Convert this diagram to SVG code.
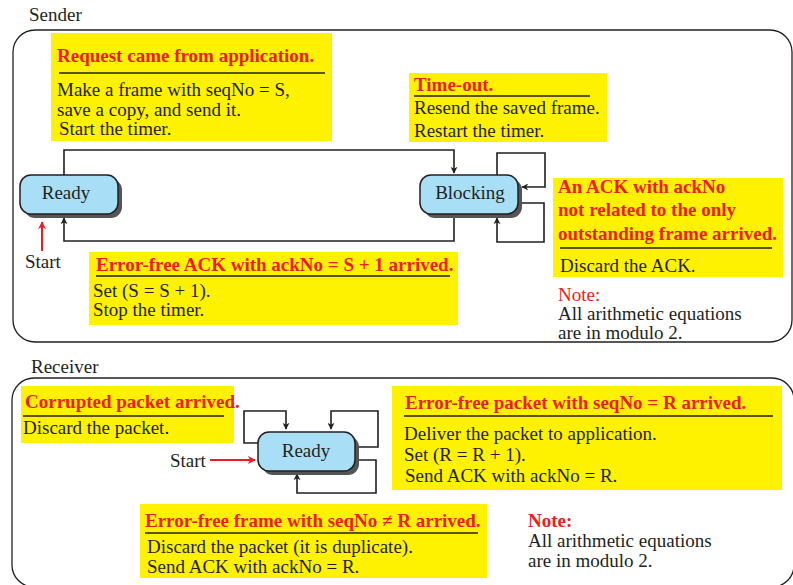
<svg xmlns="http://www.w3.org/2000/svg" width="793" height="585" viewBox="0 0 793 585">
  <style>
    text { font-family: "Liberation Serif", "Times New Roman", serif; font-size: 19px; fill: #231f20; }
    .title { fill: #ed1c24; font-weight: bold; }
    .note { fill: #ed1c24; }
    .box { fill: #fff200; }
    .rule { stroke: #231f20; stroke-width: 1.5; }
    .frame { fill: none; stroke: #231f20; stroke-width: 1.3; }
    .state { fill: #a8dff7; stroke: #231f20; stroke-width: 1.5; }
    .shadow { fill: #555; }
    .edge { fill: none; stroke: #231f20; stroke-width: 1.6; marker-end: url(#arrow); }
    .start { fill: none; stroke: #ed1c24; stroke-width: 2; marker-end: url(#arrowRed); }
    .label { text-anchor: middle; }
  </style>
  <defs>
    <marker id="arrow" viewBox="0 0 10 10" refX="9" refY="5" markerWidth="7" markerHeight="7" markerUnits="userSpaceOnUse" orient="auto">
      <path d="M0,0 L10,5 L0,10 L3,5 Z" fill="#231f20"/>
    </marker>
    <marker id="arrowRed" viewBox="0 0 10 10" refX="9" refY="5" markerWidth="8" markerHeight="8" markerUnits="userSpaceOnUse" orient="auto">
      <path d="M0,0 L10,5 L0,10 L3,5 Z" fill="#ed1c24"/>
    </marker>
  </defs>

  <rect width="793" height="585" fill="#fff"/>

  <!-- Sender panel -->
  <g id="sender-panel">
    <text x="29" y="21">Sender</text>
    <rect class="frame" x="13" y="30" width="779" height="312" rx="22"/>
  </g>

  <!-- Receiver panel -->
  <g id="receiver-panel">
    <text x="31" y="373">Receiver</text>
    <rect class="frame" x="12" y="378" width="782" height="209" rx="22"/>
  </g>

  <!-- Connectors -->
  <g id="connectors">
    <!-- Sender -->
    <path class="edge" d="M64,175 V150 H454 V173"/>
    <path class="edge" d="M454,214 V241 H64 V218"/>
    <path class="edge" d="M497,175 V153 H545 V187 H522"/>
    <path class="edge" d="M519,203 H544 V242 H497 V218"/>
    <path class="start" d="M42,251 V222"/>
    <!-- Receiver -->
    <path class="edge" d="M258,443 H244 V411 H286 V429"/>
    <path class="edge" d="M355,447 H378 V411 H331 V429"/>
    <path class="edge" d="M355,460 H376 V493 H297 V474"/>
    <path class="start" d="M210,460 H255"/>
  </g>

  <!-- Sender states -->
  <g id="sender-ready">
    <rect class="shadow" x="24" y="179" width="98" height="39" rx="11"/>
    <rect class="state" x="20" y="175" width="98" height="39" rx="11"/>
    <text class="label" x="66" y="199">Ready</text>
  </g>
  <g id="sender-blocking">
    <rect class="shadow" x="424" y="179" width="98" height="39" rx="11"/>
    <rect class="state" x="420" y="175" width="98" height="39" rx="11"/>
    <text class="label" x="470" y="199">Blocking</text>
  </g>
  <g id="sender-start">
    <text x="25" y="268">Start</text>
  </g>

  <!-- Sender transition notes -->
  <g id="note-request">
    <rect class="box" x="51" y="33" width="281" height="108"/>
    <text class="title" x="57" y="62">Request came from application.</text>
    <line class="rule" x1="59" y1="73" x2="325" y2="73"/>
    <text x="57" y="96">Make a frame with seqNo = S,</text>
    <text x="57" y="116">save a copy, and send it.</text>
    <text x="59" y="135">Start the timer.</text>
  </g>
  <g id="note-timeout">
    <rect class="box" x="409" y="73" width="198" height="69"/>
    <text class="title" x="414" y="91">Time-out.</text>
    <line class="rule" x1="414" y1="96" x2="590" y2="96"/>
    <text x="414" y="114">Resend the saved frame.</text>
    <text x="414" y="137">Restart the timer.</text>
  </g>
  <g id="note-unrelated-ack">
    <rect class="box" x="553" y="178" width="230" height="99"/>
    <text class="title" x="558" y="193">An ACK with ackNo</text>
    <text class="title" x="558" y="216">not related to the only</text>
    <text class="title" x="558" y="240">outstanding frame arrived.</text>
    <line class="rule" x1="560" y1="248" x2="772" y2="248"/>
    <text x="560" y="272">Discard the ACK.</text>
  </g>
  <g id="note-ack-arrived">
    <rect class="box" x="89" y="252" width="369" height="73"/>
    <text class="title" x="96" y="271">Error-free ACK with ackNo = S + 1 arrived.</text>
    <line class="rule" x1="96" y1="276" x2="450" y2="276"/>
    <text x="93" y="297">Set (S = S + 1).</text>
    <text x="93" y="316">Stop the timer.</text>
  </g>
  <g id="sender-modulo">
    <text class="note" x="558" y="301">Note:</text>
    <text x="558" y="320">All arithmetic equations</text>
    <text x="558" y="339">are in modulo 2.</text>
  </g>

  <!-- Receiver state -->
  <g id="receiver-ready">
    <rect class="shadow" x="262" y="436" width="97" height="39" rx="11"/>
    <rect class="state" x="258" y="432" width="97" height="39" rx="11"/>
    <text class="label" x="306" y="457">Ready</text>
  </g>
  <g id="receiver-start">
    <text x="170" y="467">Start</text>
  </g>

  <!-- Receiver transition notes -->
  <g id="note-corrupted">
    <rect class="box" x="21" y="386" width="213" height="57"/>
    <text class="title" x="25" y="408">Corrupted packet arrived.</text>
    <line class="rule" x1="23" y1="416" x2="224" y2="416"/>
    <text x="23" y="434">Discard the packet.</text>
  </g>
  <g id="note-expected">
    <rect class="box" x="392" y="386" width="390" height="104"/>
    <text class="title" x="405" y="409">Error-free packet with seqNo = R arrived.</text>
    <line class="rule" x1="404" y1="416" x2="773" y2="416"/>
    <text x="404" y="440">Deliver the packet to application.</text>
    <text x="404" y="461">Set (R = R + 1).</text>
    <text x="405" y="482">Send ACK with ackNo = R.</text>
  </g>
  <g id="note-duplicate">
    <rect class="box" x="140" y="504" width="347" height="74"/>
    <text class="title" x="145" y="527">Error-free frame with seqNo ≠ R arrived.</text>
    <line class="rule" x1="145" y1="533" x2="478" y2="533"/>
    <text x="147" y="553">Discard the packet (it is duplicate).</text>
    <text x="147" y="573">Send ACK with ackNo = R.</text>
  </g>
  <g id="receiver-modulo">
    <text class="title" x="528" y="527">Note:</text>
    <text x="528" y="547">All arithmetic equations</text>
    <text x="528" y="567">are in modulo 2.</text>
  </g>
</svg>
